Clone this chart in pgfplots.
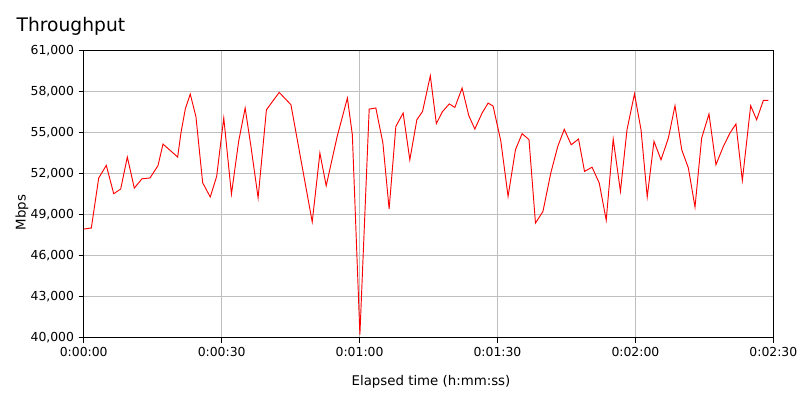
\documentclass[border=0pt]{standalone}
\usepackage{fontspec}
\setmainfont{DejaVu Sans}
\usepackage{pgfplots}
\pgfplotsset{compat=1.18}

\begin{document}
\begin{tikzpicture}
\useasboundingbox (0,0) rectangle (600pt,300pt);
\node[anchor=base west, font=\fontsize{14}{16}\selectfont] at (9pt,276pt) {Throughput};
\begin{axis}[
    at={(62.8pt,46.7pt)}, anchor=south west,
    scale only axis, width=517.2pt, height=215.25pt,
    xmin=0, xmax=150, ymin=40000, ymax=61000,
    xtick={0,30,...,150},
    xticklabels={0:00:00,0:00:30,0:01:00,0:01:30,0:02:00,0:02:30},
    ytick={40000,43000,...,61000},
    scaled y ticks=false,
    /pgf/number format/.cd, fixed, 1000 sep={,}, assume math mode=true, /pgfplots/.cd,
    tick label style={font=\fontsize{9.3}{11}\selectfont, black},
    label style={font=\fontsize{10}{12}\selectfont},
    xlabel={Elapsed time (h:mm:ss)},
    ylabel={Mbps},
    xlabel style={at={(axis description cs:0.5036,-0.168)}, anchor=base},
    ylabel style={at={(axis description cs:-0.0895,0.436)}, anchor=center},
    grid=major,
    major grid style={color=black!25, line width=0.75pt},
    axis line style={black, line width=0.9pt},
    tick align=outside,
    xtick pos=bottom, ytick pos=left,
    major tick length=3.75pt,
    tick style={black, line width=0.75pt},
]
% elapsed seconds, Mbps
\addplot[red, line width=0.7pt, sharp plot, mark=none] coordinates {
(0.00,47950) (1.65,48030) (3.26,51690) (4.91,52610) (6.52,50540)
(8.04,50880) (9.48,53220) (11.00,50950) (12.67,51630) (14.41,51690)
(16.15,52590) (17.24,54170) (18.83,53700) (20.43,53220) (21.15,55000)
(22.09,56730) (23.17,57830) (24.41,56170) (25.87,51340) (27.52,50300)
(28.91,51800) (30.46,56080) (32.13,50510) (33.70,54370) (35.11,56810)
(36.37,54000) (37.93,50240) (39.74,56680) (42.52,57950) (45.07,57050)
(49.70,48470) (51.37,53510) (52.74,51120) (55.13,54730) (57.35,57540)
(58.43,54850) (60.07,40220) (62.09,56730) (63.54,56810) (65.07,54250)
(66.43,49420) (67.89,55460) (69.48,56440) (70.93,53020) (72.46,55950)
(73.70,56560) (75.39,59170) (76.70,55660) (78.00,56530) (79.52,57110)
(80.72,56850) (82.30,58270) (83.76,56250) (85.07,55270) (86.65,56440)
(87.96,57170) (89.04,56950) (90.72,54400) (92.30,50340) (93.91,53760)
(95.35,54930) (96.85,54500) (98.26,48390) (99.89,49240) (101.59,52050)
(103.11,54000) (104.52,55250) (106.04,54120) (107.63,54540) (108.93,52170)
(110.57,52480) (112.13,51320) (113.65,48600) (115.17,54540) (116.74,50710)
(118.17,55220) (119.80,57850) (121.22,55220) (122.57,50300) (124.04,54370)
(125.57,53020) (127.17,54610) (128.61,56980) (130.07,53760) (131.52,52420)
(132.96,49560) (134.41,54610) (136.00,56370) (137.52,52660) (139.13,54000)
(140.57,54980) (141.87,55640) (143.26,51510) (145.07,56980) (146.37,55950)
(147.83,57370) (148.91,57370)
};
\end{axis}
\end{tikzpicture}
\end{document}
